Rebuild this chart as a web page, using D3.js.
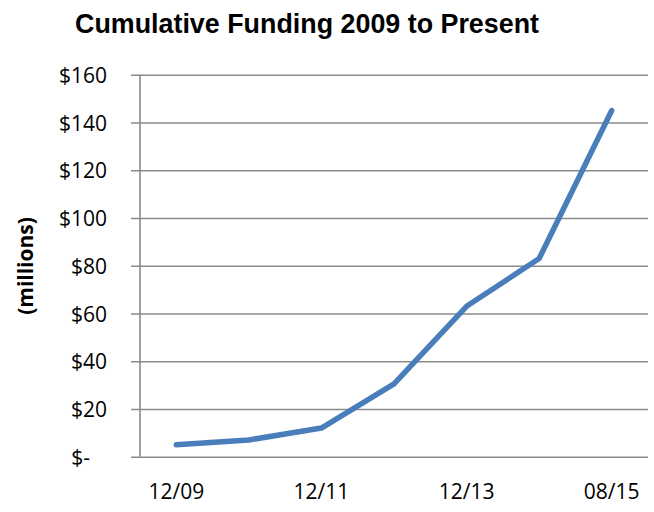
<!DOCTYPE html>
<html>
<head>
<meta charset="utf-8">
<script src="https://cdn.jsdelivr.net/npm/d3@7"></script>
<style>
  body { margin: 0; background: #fff; }
  text { font-family: "Open Sans", "Liberation Sans", sans-serif; fill: #000; }
</style>
</head>
<body>
<div id="chart"></div>
<script>
// data
const periods = ["12/09", "12/10", "12/11", "12/12", "12/13", "12/14", "08/15"]
const funding = [5, 7, 12, 30.5, 63, 83, 145]   // $ millions, cumulative
const yTicks = [0, 20, 40, 60, 80, 100, 120, 140, 160]
const shownPeriods = ["12/09", "12/11", "12/13", "08/15"]

const width = 654, height = 512
const plotLeft = 140, plotRight = 648, plotTop = 74.7, plotBottom = 456.7

const svg = d3.select("#chart")
  .append("svg")
  .attr("width", width)
  .attr("height", height)

var x = d3.scaleBand()
  .domain(periods)
  .range([plotLeft, plotRight])

var y = d3.scaleLinear()
  .domain([0, 160])
  .range([plotBottom, plotTop])

// horizontal gridlines + y ticks
const yAxis = svg.append("g")
  .attr("transform", "translate(" + plotLeft + ",0)")
  .call(d3.axisLeft(y)
    .tickValues(yTicks)
    .tickSize(-(plotRight - plotLeft))
    .tickSizeOuter(0)
    .tickPadding(33)
    .tickFormat(d => d === 0 ? "$-" : "$" + d))

yAxis.select(".domain").remove()
yAxis.selectAll(".tick line")
  .attr("x1", -9)
  .attr("stroke", "#8a8a8a")
  .attr("stroke-width", 1.6)
yAxis.selectAll(".tick text")
  .style("font-size", "21px")
  .attr("fill", "#000")
  .attr("dy", "0.36em")
// accounting style zero sits further left
yAxis.selectAll(".tick text")
  .filter(d => d === 0)
  .attr("x", -50)

// vertical axis line
svg.append("line")
  .attr("x1", plotLeft).attr("x2", plotLeft)
  .attr("y1", plotTop).attr("y2", plotBottom)
  .attr("stroke", "#8a8a8a")
  .attr("stroke-width", 1.6)

// x axis labels (every other period)
const xAxis = svg.append("g")
  .attr("transform", "translate(0," + plotBottom + ")")
  .call(d3.axisBottom(x)
    .tickValues(shownPeriods)
    .tickSize(0)
    .tickPadding(27))
xAxis.select(".domain").remove()
xAxis.selectAll(".tick text")
  .style("font-size", "21px")
  .attr("fill", "#000")

// the funding line
const line = d3.line()
  .x((d, i) => x(periods[i]) + x.bandwidth() / 2)
  .y(d => y(d))

svg.append("path")
  .datum(funding)
  .attr("fill", "none")
  .attr("stroke", "#4a7ebb")
  .attr("stroke-width", 5.5)
  .attr("stroke-linecap", "round")
  .attr("stroke-linejoin", "round")
  .attr("d", line)

// title
svg.append("text")
  .attr("x", 307)
  .attr("y", 33)
  .attr("text-anchor", "middle")
  .attr("textLength", 464)
  .attr("lengthAdjust", "spacingAndGlyphs")
  .style("font-family", "'Liberation Sans Narrow', 'Liberation Sans', sans-serif")
  .style("font-weight", "bold")
  .style("font-size", "27px")
  .text("Cumulative Funding 2009 to Present")

// y axis title
svg.append("text")
  .attr("transform", "translate(33,266) rotate(-90)")
  .attr("text-anchor", "middle")
  .style("font-weight", "bold")
  .style("font-size", "21px")
  .text("(millions)")
</script>
</body>
</html>
